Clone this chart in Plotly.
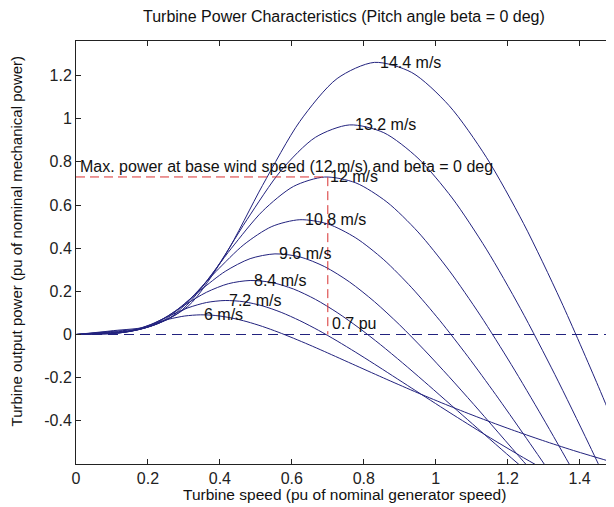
import plotly.graph_objects as go

# ---- data ----
wind_labels = ["6 m/s", "7.2 m/s", "8.4 m/s", "9.6 m/s", "10.8 m/s", "12 m/s", "13.2 m/s", "14.4 m/s"]

speed_6 = [0, 0.0432, 0.0864, 0.1296, 0.1728, 0.2160, 0.2593, 0.3025, 0.3457, 0.3889, 0.4321, 0.4753, 0.5185,
           0.5617, 0.6049, 0.6481, 0.6914, 0.7778, 0.8642, 0.9506, 1.0370, 1.1235, 1.2099, 1.2963, 1.3827, 1.5123]
power_6 = [0, 0.0013, 0.0029, 0.0094, 0.0267, 0.0500, 0.0714, 0.0858, 0.0912, 0.0878, 0.0767, 0.0594, 0.0372,
           0.0112, -0.0174, -0.0477, -0.0793, -0.1439, -0.2082, -0.2708, -0.3305, -0.3872, -0.4404, -0.4904, -0.5373, -0.6018]

speed_72 = [0, 0.0519, 0.1037, 0.1556, 0.2074, 0.2593, 0.3111, 0.3630, 0.4148, 0.4667, 0.5185, 0.5704, 0.6222,
            0.6741, 0.7259, 0.7778, 0.8296, 0.9333, 1.0370, 1.1407, 1.2444, 1.3481]
power_72 = [0, 0.0022, 0.0050, 0.0163, 0.0461, 0.0864, 0.1234, 0.1483, 0.1576, 0.1518, 0.1326, 0.1027, 0.0642,
            0.0194, -0.0300, -0.0825, -0.1370, -0.2486, -0.3598, -0.4679, -0.5712, -0.6690]

speed_84 = [0, 0.0605, 0.1210, 0.1815, 0.2420, 0.3025, 0.3630, 0.4235, 0.4840, 0.5444, 0.6049, 0.6654, 0.7259,
            0.7864, 0.8469, 0.9074, 0.9679, 1.0889, 1.2099, 1.3309]
power_84 = [0, 0.0035, 0.0079, 0.0259, 0.0731, 0.1371, 0.1960, 0.2354, 0.2503, 0.2410, 0.2106, 0.1630, 0.1019,
            0.0308, -0.0476, -0.1310, -0.2176, -0.3948, -0.5714, -0.7430]

speed_96 = [0, 0.0691, 0.1383, 0.2074, 0.2765, 0.3457, 0.4148, 0.4840, 0.5531, 0.6222, 0.6914, 0.7605, 0.8296,
            0.8988, 0.9679, 1.0370, 1.1062, 1.2444, 1.3827]
power_96 = [0, 0.0053, 0.0117, 0.0386, 0.1092, 0.2047, 0.2925, 0.3514, 0.3736, 0.3597, 0.3143, 0.2433, 0.1522,
            0.0459, -0.0711, -0.1955, -0.3248, -0.5893, -0.8530]

speed_108 = [0, 0.0778, 0.1556, 0.2333, 0.3111, 0.3889, 0.4667, 0.5444, 0.6222, 0.7000, 0.7778, 0.8556, 0.9333,
             1.0111, 1.0889, 1.1667, 1.2444, 1.3222, 1.4000]
power_108 = [0, 0.0075, 0.0167, 0.0549, 0.1554, 0.2915, 0.4165, 0.5004, 0.5319, 0.5122, 0.4476, 0.3465, 0.2166,
             0.0654, -0.1012, -0.2784, -0.4624, -0.6501, -0.8391]

speed_12 = [0, 0.0864, 0.1728, 0.2593, 0.3457, 0.4321, 0.5185, 0.6049, 0.6914, 0.7778, 0.8642, 0.9506, 1.0370,
            1.1235, 1.2099, 1.2963, 1.3827, 1.4691]
power_12 = [0, 0.0103, 0.0229, 0.0754, 0.2132, 0.3998, 0.5714, 0.6864, 0.7297, 0.7026, 0.6140, 0.4753, 0.2972,
            0.0897, -0.1389, -0.3819, -0.6343, -0.8917]

speed_132 = [0, 0.0951, 0.1901, 0.2852, 0.3802, 0.4753, 0.5704, 0.6654, 0.7605, 0.8556, 0.9506, 1.0457, 1.1407,
             1.2358, 1.3309, 1.4259, 1.5210]
power_132 = [0, 0.0138, 0.0305, 0.1003, 0.2838, 0.5322, 0.7605, 0.9135, 0.9712, 0.9352, 0.8172, 0.6326, 0.3955,
             0.1194, -0.1848, -0.5083, -0.8443]

speed_144 = [0, 0.1037, 0.2074, 0.3111, 0.4148, 0.5185, 0.6222, 0.7259, 0.8296, 0.9333, 1.0370, 1.1407, 1.2444,
             1.3481, 1.4519, 1.5037, 1.5556]
power_144 = [0, 0.0179, 0.0396, 0.1302, 0.3684, 0.6909, 0.9873, 1.1860, 1.2609, 1.2141, 1.0609, 0.8212, 0.5135,
             0.1551, -0.2399, -0.4475, -0.6599]

# label anchor points (curve peaks)
label_speed = [0.35, 0.42, 0.49, 0.56, 0.63, 0.70, 0.77, 0.84]
label_power = [0.091, 0.158, 0.25, 0.374, 0.532, 0.73, 0.972, 1.261]

base_speed = 0.7      # pu
base_power = 0.73     # pu
x_range = [0, 1.49]
y_range = [-0.6, 1.36]
x_ticks = [0, 0.2, 0.4, 0.6, 0.8, 1.0, 1.2, 1.4]
x_tick_text = ["0", "0.2", "0.4", "0.6", "0.8", "1", "1.2", "1.4"]
y_ticks = [-0.4, -0.2, 0, 0.2, 0.4, 0.6, 0.8, 1.0, 1.2]
y_tick_text = ["-0.4", "-0.2", "0", "0.2", "0.4", "0.6", "0.8", "1", "1.2"]

speeds = [speed_6, speed_72, speed_84, speed_96, speed_108, speed_12, speed_132, speed_144]
powers = [power_6, power_72, power_84, power_96, power_108, power_12, power_132, power_144]

CURVE = "#22227e"
FONT = "Liberation Sans, Arial, sans-serif"
FS = 16

fig = go.Figure()
for xs, ys in zip(speeds, powers):
    fig.add_trace(go.Scatter(x=xs, y=ys, mode="lines", line=dict(color=CURVE, width=1, shape="spline", smoothing=0.8),
                             hoverinfo="skip", showlegend=False))

# zero line (dashed)
fig.add_trace(go.Scatter(x=x_range, y=[0, 0], mode="lines",
                         line=dict(color=CURVE, width=1, dash="10px,6px"), showlegend=False))
# red dashed lines for max power at base wind speed
fig.add_trace(go.Scatter(x=[0, base_speed, base_speed], y=[base_power, base_power, 0], mode="lines",
                         line=dict(color="#d83030", width=1, dash="9px,5px"), showlegend=False))

txt_font = dict(size=FS, color="#111111", family=FONT)
ann = []
for lx, ly, t in zip(label_speed, label_power, wind_labels):
    ann.append(dict(x=lx, y=ly, xref="x", yref="y", text=t, showarrow=False, xanchor="left", yanchor="middle",
                    font=txt_font))
ann.append(dict(x=0.006, y=0.78, xref="x", yref="y",
                text="Max. power at base wind speed (12 m/s) and beta = 0 deg",
                showarrow=False, xanchor="left", yanchor="middle", font=txt_font))
ann.append(dict(x=base_speed + 0.005, y=0.05, xref="x", yref="y", text="0.7 pu", showarrow=False,
                xanchor="left", yanchor="middle", font=txt_font))
# titles
ann.append(dict(x=0.5, y=-0.071, xref="paper", yref="paper", text="Turbine speed (pu of nominal generator speed)",
                showarrow=False, xanchor="center", yanchor="middle", font=dict(size=15.5, color="#111111", family=FONT)))
ann.append(dict(x=-0.111, y=0.525, xref="paper", yref="paper",
                text="Turbine output power (pu of nominal mechanical power)", textangle=-90,
                showarrow=False, xanchor="center", yanchor="middle", font=dict(size=15, color="#111111", family=FONT)))
ann.append(dict(x=0.5, y=1.057, xref="paper", yref="paper",
                text="Turbine Power Characteristics (Pitch angle beta = 0 deg)",
                showarrow=False, xanchor="center", yanchor="middle", font=txt_font))

axis_common = dict(showline=True, linecolor="#222222", linewidth=1, mirror="ticks", ticks="inside", ticklen=5,
                   tickcolor="#222222", showgrid=False, zeroline=False,
                   tickfont=dict(size=FS, color="#222222", family=FONT))

# the page body has an 8px margin, so the figure is shrunk by 8px to fill the window
fig.update_layout(
    width=606, height=499,
    margin=dict(l=68, r=2, t=33, b=43),
    paper_bgcolor="white", plot_bgcolor="white",
    xaxis=dict(range=x_range, tickvals=x_ticks, ticktext=x_tick_text, **axis_common),
    yaxis=dict(range=y_range, tickvals=y_ticks, ticktext=y_tick_text, **axis_common),
    annotations=ann,
    showlegend=False,
)

fig.write_html("out.html")
